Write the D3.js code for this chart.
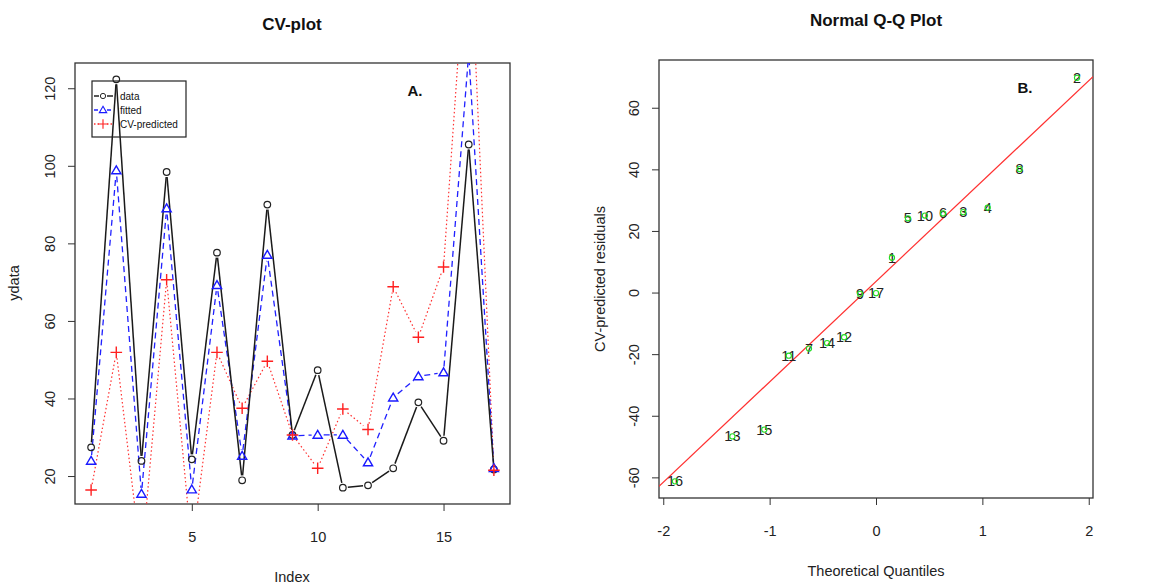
<!DOCTYPE html>
<html>
<head>
<meta charset="utf-8">
<script src="https://cdn.jsdelivr.net/npm/d3@7"></script>
<style>
  html, body { margin: 0; padding: 0; background: #fff; }
  svg { display: block; font-family: "Liberation Sans", Arial, sans-serif; }
</style>
</head>
<body>
<svg id="chart" width="1176" height="585"></svg>
<script>
// ---------- data ----------
const index = [1,2,3,4,5,6,7,8,9,10,11,12,13,14,15,16,17];
const ydata = [27.4,122.3,23.9,98.4,24.3,77.6,18.9,90.0,30.6,47.3,17.0,17.6,22.0,39.0,29.1,105.5,21.7];
const fitted = [23.9,98.8,15.4,89.0,16.5,69.2,25.2,77.0,30.4,30.6,30.6,23.5,40.2,45.7,46.7,129,22.0];
const cvPredicted = [16.4,51.9,-2.0,70.6,1.3,51.9,37.5,49.6,30.6,22.0,37.3,32.0,68.8,55.8,73.9,167,21.5];

// Q-Q plot: point labels, theoretical quantiles, residuals
const qqLabels = ["16","13","15","11","7","14","12","9","17","1","5","10","6","3","4","8","2"];
const qqTheoretical = [-1.89,-1.35,-1.05,-0.82,-0.63,-0.46,-0.30,-0.15,0.00,0.15,0.30,0.46,0.63,0.82,1.05,1.35,1.89];
const qqResidual = [-61.3,-46.7,-44.5,-20.5,-18.2,-16.4,-14.5,-0.4,-0.2,11.3,24.1,25.0,25.7,26.1,27.6,40.1,69.7];
const qqLineIntercept = 3.6;
const qqLineSlope = 32.6;

const leftXTicks = [5,10,15];
const leftYTicks = [20,40,60,80,100,120];
const rightXTicks = [-2,-1,0,1,2];
const rightYTicks = [-60,-40,-20,0,20,40,60];

// ---------- drawing ----------
const svg = d3.select("#chart");
svg.append("rect").attr("width",1176).attr("height",585).attr("fill","#fff");

const FONT = 14.5;

// Left panel scales
const L = {left:75, right:510, top:63, bottom:504};
const xL = d3.scaleLinear().domain([0.36,17.64]).range([L.left,L.right]);
const yL = d3.scaleLinear().domain([12.79,126.51]).range([L.bottom,L.top]);

// Right panel scales
const R = {left:659, right:1093, top:60, bottom:498};
const xR = d3.scaleLinear().domain([-2.04,2.04]).range([R.left,R.right]);
const yR = d3.scaleLinear().domain([-66.7,75.5]).range([R.bottom,R.top]);

const defs = svg.append("defs");
defs.append("clipPath").attr("id","clipL").append("rect")
  .attr("x",L.left).attr("y",L.top).attr("width",L.right-L.left).attr("height",L.bottom-L.top);
defs.append("clipPath").attr("id","clipR").append("rect")
  .attr("x",R.left).attr("y",R.top).attr("width",R.right-R.left).attr("height",R.bottom-R.top);

const fmt = d => String(d);

function styleAxis(g){
  g.select(".domain").remove();
  g.selectAll(".tick line").attr("stroke","#333").attr("stroke-width",1);
  g.selectAll(".tick text").attr("fill","#222").attr("font-size",FONT).attr("font-family","Liberation Sans, Arial, sans-serif");
}

function drawAxes(box, xs, ys, xt, yt){
  const gx = svg.append("g").attr("transform",`translate(0,${box.bottom})`)
    .call(d3.axisBottom(xs).tickValues(xt).tickSize(7).tickSizeOuter(0).tickFormat(fmt));
  styleAxis(gx);
  gx.selectAll(".tick text").attr("y",33).attr("dy","0.35em");
  const gy = svg.append("g").attr("transform",`translate(${box.left},0)`)
    .call(d3.axisLeft(ys).tickValues(yt).tickSize(7).tickSizeOuter(0).tickFormat(fmt));
  styleAxis(gy);
  gy.selectAll(".tick text").attr("x",null).attr("dy","0.35em")
    .attr("text-anchor","middle").attr("transform","translate(-25,0) rotate(-90)");
  svg.append("rect").attr("x",box.left).attr("y",box.top)
    .attr("width",box.right-box.left).attr("height",box.bottom-box.top)
    .attr("fill","none").attr("stroke","#333").attr("stroke-width",1.3);
}

// ----- Left: CV-plot -----
drawAxes(L, xL, yL, leftXTicks, leftYTicks);

const plotL = svg.append("g").attr("clip-path","url(#clipL)");

// type "b": segments with gaps around points
function drawTypeB(values, color, width, dash, gap){
  const pts = index.map((d,i)=>[xL(d), yL(values[i])]);
  const segs = [];
  for(let i=0;i<pts.length-1;i++){
    const [x1,y1]=pts[i], [x2,y2]=pts[i+1];
    const len = Math.hypot(x2-x1,y2-y1);
    if(len <= 2*gap) continue;
    const ux=(x2-x1)/len, uy=(y2-y1)/len;
    segs.push([[x1+ux*gap,y1+uy*gap],[x2-ux*gap,y2-uy*gap]]);
  }
  plotL.append("g").selectAll("path").data(segs).join("path")
    .attr("d", d=>d3.line()(d))
    .attr("fill","none").attr("stroke",color).attr("stroke-width",width)
    .attr("stroke-dasharray",dash);
}

function circleMarker(g, x, y){
  g.append("circle").attr("cx",x).attr("cy",y).attr("r",3.3)
    .attr("fill","none").attr("stroke","#222").attr("stroke-width",1.2);
}
function triMarker(g, x, y){
  const s = 4.6;
  g.append("path").attr("d",`M${x},${y-s} L${x+s},${y+s*0.72} L${x-s},${y+s*0.72} Z`)
    .attr("fill","none").attr("stroke","#1a1aff").attr("stroke-width",1.4);
}
function plusMarker(g, x, y){
  const s = 5.8;
  g.append("path").attr("d",`M${x-s},${y} H${x+s} M${x},${y-s} V${y+s}`)
    .attr("fill","none").attr("stroke","#ff2020").attr("stroke-width",1.4);
}

drawTypeB(cvPredicted, "#ff3030", 1.2, "1.5,2.5", 6);
drawTypeB(fitted, "#2020ff", 1.3, "6,4", 6);
drawTypeB(ydata, "#1a1a1a", 1.5, null, 5);

index.forEach((d,i)=>{ circleMarker(plotL, xL(d), yL(ydata[i])); });
index.forEach((d,i)=>{ triMarker(plotL, xL(d), yL(fitted[i])); });
index.forEach((d,i)=>{ plusMarker(plotL, xL(d), yL(cvPredicted[i])); });

// Legend (no fill)
const legend = svg.append("g");
legend.append("rect").attr("x",92).attr("y",81).attr("width",94).attr("height",56)
  .attr("fill","none").attr("stroke","#222").attr("stroke-width",1.2);
const legItems = [
  {label:"data", color:"#222", dash:null, marker:circleMarker, y:96},
  {label:"fitted", color:"#2020ff", dash:"4,3", marker:triMarker, y:110},
  {label:"CV-predicted", color:"#ff3030", dash:"1.5,2", marker:plusMarker, y:124}
];
legItems.forEach(it=>{
  legend.append("path").attr("d",`M94,${it.y} H99 M107,${it.y} H113`)
    .attr("stroke",it.color).attr("stroke-width",1.3).attr("fill","none")
    .attr("stroke-dasharray",it.dash);
  const mg = legend.append("g").attr("transform",`translate(103,${it.y}) scale(0.8) translate(-103,${-it.y})`);
  it.marker(mg, 103, it.y);
  legend.append("text").attr("x",120).attr("y",it.y).attr("dy","0.35em")
    .attr("font-size",10).attr("fill","#111").text(it.label);
});

// Titles and labels
svg.append("text").attr("x",292).attr("y",30).attr("text-anchor","middle")
  .attr("font-size",17).attr("font-weight","bold").attr("fill","#111").text("CV-plot");
svg.append("text").attr("x",415).attr("y",96).attr("text-anchor","middle")
  .attr("font-size",15).attr("font-weight","bold").attr("fill","#111").text("A.");
svg.append("text").attr("x",292).attr("y",582).attr("text-anchor","middle")
  .attr("font-size",FONT).attr("fill","#222").text("Index");
svg.append("text").attr("transform","translate(19,283) rotate(-90)").attr("text-anchor","middle")
  .attr("font-size",FONT).attr("fill","#222").text("ydata");

// ----- Right: Normal Q-Q Plot -----
drawAxes(R, xR, yR, rightXTicks, rightYTicks);
const plotR = svg.append("g").attr("clip-path","url(#clipR)");

plotR.append("line")
  .attr("x1",xR(-2.04)).attr("y1",yR(qqLineIntercept + qqLineSlope*-2.04))
  .attr("x2",xR(2.04)).attr("y2",yR(qqLineIntercept + qqLineSlope*2.04))
  .attr("stroke","#ff3030").attr("stroke-width",1.2);

plotR.selectAll("text.lab").data(qqLabels).join("text").attr("class","lab")
  .attr("x",(d,i)=>xR(qqTheoretical[i])).attr("y",(d,i)=>yR(qqResidual[i]))
  .attr("dy","0.35em").attr("text-anchor","middle")
  .attr("font-size",14.5).attr("fill","#222").text(d=>d);

plotR.selectAll("circle.pt").data(qqResidual).join("circle").attr("class","pt")
  .attr("cx",(d,i)=>xR(qqTheoretical[i])).attr("cy",d=>yR(d))
  .attr("r",2.6).attr("fill","none").attr("stroke","#22dd22").attr("stroke-width",1.1);

svg.append("text").attr("x",876).attr("y",26).attr("text-anchor","middle")
  .attr("font-size",17).attr("font-weight","bold").attr("fill","#111").text("Normal Q-Q Plot");
svg.append("text").attr("x",1025).attr("y",93).attr("text-anchor","middle")
  .attr("font-size",15).attr("font-weight","bold").attr("fill","#111").text("B.");
svg.append("text").attr("x",876).attr("y",576).attr("text-anchor","middle")
  .attr("font-size",FONT).attr("fill","#222").text("Theoretical Quantiles");
svg.append("text").attr("transform","translate(605,279) rotate(-90)").attr("text-anchor","middle")
  .attr("font-size",FONT).attr("fill","#222").text("CV-predicted residuals");
</script>
</body>
</html>
